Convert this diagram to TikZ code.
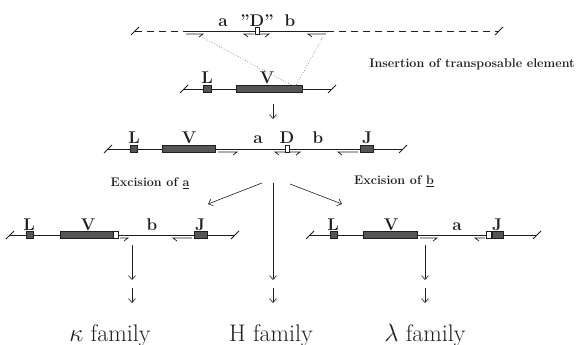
\documentclass[tikz,border=0pt]{standalone}
\usepackage{fontspec}
\usetikzlibrary{arrows.meta}
\definecolor{geneInk}{HTML}{1E1E1E}
\definecolor{geneFill}{HTML}{555555}
\definecolor{dotInk}{HTML}{7A7A7A}

\begin{document}
\begin{tikzpicture}[x=1pt, y=-1pt,
    dna/.style={draw=geneInk, line width=0.8pt},
    rss/.style={draw=geneInk, line width=0.7pt},
    seg/.style={draw=geneInk, fill=geneFill, line width=0.4pt, rectangle, minimum height=7pt, inner sep=0pt},
    gapbox/.style={draw=geneInk, fill=white, line width=0.6pt, rectangle, minimum height=7pt, minimum width=5pt, inner sep=0pt},
    gene/.style={font=\bfseries\fontsize{17}{19}\selectfont, text=geneInk, anchor=base, inner sep=0pt},
    fam/.style={font=\fontsize{24}{27}\selectfont, text=geneInk, anchor=base, inner sep=0pt},
    note/.style={font=\bfseries\fontsize{12.5}{14}\selectfont, text=geneInk, inner sep=0pt},
    flow/.style={draw=geneInk, line width=0.6pt, -{Straight Barb[length=4pt, width=7pt]}},
    ins/.style={draw=dotInk, line width=0.7pt, dotted},
    brk/.pic={\draw[dna] (-4,4) -- (4,-4);},
]
\useasboundingbox (0,0) rectangle (581,345);

% donor: transposable element
\coordinate (t0w) at (135,31);
\coordinate (t0a) at (186,31);
\coordinate (t0b) at (327,31);
\coordinate (t0e) at (499,31);
\draw[dna, dash pattern=on 7pt off 5pt] (t0w) -- (t0a);
\draw[dna] (t0a) -- (t0b);
\draw[dna, dash pattern=on 7pt off 5pt] (t0b) -- (t0e);
\pic at (t0w) {brk};
\pic at (t0e) {brk};
\draw[rss] (186,34) -- (203,34) -- (199,37);
\draw[rss] (254,34) -- (244,34) -- (248,37);
\draw[rss] (260,34) -- (269,34) -- (265,37);
\draw[rss] (326,34) -- (308,34) -- (312,37);
\node[gapbox, minimum width=4pt] (D0) at (257,31) {};
\node[gene] (a0) at (223,27) {a};
\node[gene] (q0) at (257,27) {"D"};
\node[gene] (b0) at (290,27) {b};

% germline V gene
\coordinate (r1w) at (184,89);
\coordinate (r1e) at (332,89);
\draw[dna] (r1w) -- (r1e);
\pic at (r1w) {brk};
\pic at (r1e) {brk};
\node[seg, minimum width=8pt] (L1) at (207,89) {};
\node[seg, minimum width=66pt] (V1) at (269,89) {};
\node[gene] at (207,83) {L};
\node[gene] at (267,83) {V};
\coordinate (s1) at (200,36);
\coordinate (s2) at (323,37);
\coordinate (v1) at (295,87);
\draw[ins] (s1) -- (v1);
\draw[ins] (s2) -- (v1);
\node[note] (insert) at (472,64) {Insertion of transposable element};

\coordinate (d1) at (273,104);
\coordinate (d2) at (273,119);
\draw[flow] (d1) -- (d2);

% after insertion
\coordinate (r2w) at (108,149);
\coordinate (r2e) at (403,149);
\draw[dna] (r2w) -- (r2e);
\pic at (r2w) {brk};
\pic at (r2e) {brk};
\draw[rss] (218,152) -- (237,152) -- (233,155);
\draw[rss] (285,152) -- (275,152) -- (279,155);
\draw[rss] (290,152) -- (300,152) -- (296,155);
\draw[rss] (358,152) -- (338,152) -- (342,155);
\node[seg, minimum width=7pt] (L2) at (133.5,149) {};
\node[seg, minimum width=53pt] (V2) at (188.5,149) {};
\node[gapbox, minimum width=4pt] (D2) at (287,149) {};
\node[seg, minimum width=13pt] (J2) at (366.5,149) {};
\node[gene] at (134,143) {L};
\node[gene] at (189,143) {V};
\node[gene] at (258,143) {a};
\node[gene] at (287,143) {D};
\node[gene] at (318,143) {b};
\node[gene] at (367,143) {J};

\coordinate (x0) at (262,183);
\coordinate (xa) at (208,204);
\coordinate (m0) at (273,183);
\coordinate (m1) at (273,280);
\coordinate (y0) at (290,184);
\coordinate (yb) at (342,204);
\draw[flow] (x0) -- (xa);
\draw[flow] (m0) -- (m1);
\draw[flow] (y0) -- (yb);
\node[note] (exa) at (150,183) {Excision of \underline{a}};
\node[note] (exb) at (394,181) {Excision of \underline{b}};

% left product
\coordinate (r3w) at (10,235);
\coordinate (r3e) at (235,235);
\draw[dna] (r3w) -- (r3e);
\pic at (r3w) {brk};
\pic at (r3e) {brk};
\draw[rss] (120,238) -- (128,238) -- (124,241);
\draw[rss] (192,238) -- (173,238) -- (177,241);
\node[seg, minimum width=7pt] (L3) at (29.5,235) {};
\node[seg, minimum width=53pt] (V3) at (86.5,235) {};
\node[gapbox, anchor=west] (D3) at (V3.east) {};
\node[seg, minimum width=13pt] (J3) at (200.5,235) {};
\node[gene] at (29,230) {L};
\node[gene] at (88,230) {V};
\node[gene] at (152,230) {b};
\node[gene] at (200,230) {J};

% right product
\coordinate (r4w) at (310,235);
\coordinate (r4e) at (537,235);
\draw[dna] (r4w) -- (r4e);
\pic at (r4w) {brk};
\pic at (r4e) {brk};
\draw[rss] (420,238) -- (437,238) -- (433,241);
\draw[rss] (485,238) -- (475,238) -- (479,241);
\node[seg, minimum width=7pt] (L4) at (333.5,235) {};
\node[seg, minimum width=54pt] (V4) at (390,235) {};
\node[seg, minimum width=11pt] (J4) at (497.5,235) {};
\node[gapbox, anchor=east] (D4) at (J4.west) {};
\node[gene] at (333,230) {L};
\node[gene] at (391,230) {V};
\node[gene] at (457,230) {a};
\node[gene] at (497,230) {J};

\coordinate (k0) at (132,245);
\coordinate (k1) at (132,280);
\coordinate (l0) at (425,245);
\coordinate (l1) at (425,280);
\draw[flow] (k0) -- (k1);
\draw[flow] (l0) -- (l1);
\coordinate (k2) at (132,288);
\coordinate (k3) at (132,303);
\coordinate (m2) at (273,288);
\coordinate (m3) at (273,303);
\coordinate (l2) at (425,288);
\coordinate (l3) at (425,303);
\draw[flow] (k2) -- (k3);
\draw[flow] (m2) -- (m3);
\draw[flow] (l2) -- (l3);

\node[fam] (kappa) at (110,341) {$\kappa$ family};
\node[fam] (heavy) at (271,341) {H family};
\node[fam] (lambda) at (425,341) {$\lambda$ family};
\end{tikzpicture}
\end{document}
